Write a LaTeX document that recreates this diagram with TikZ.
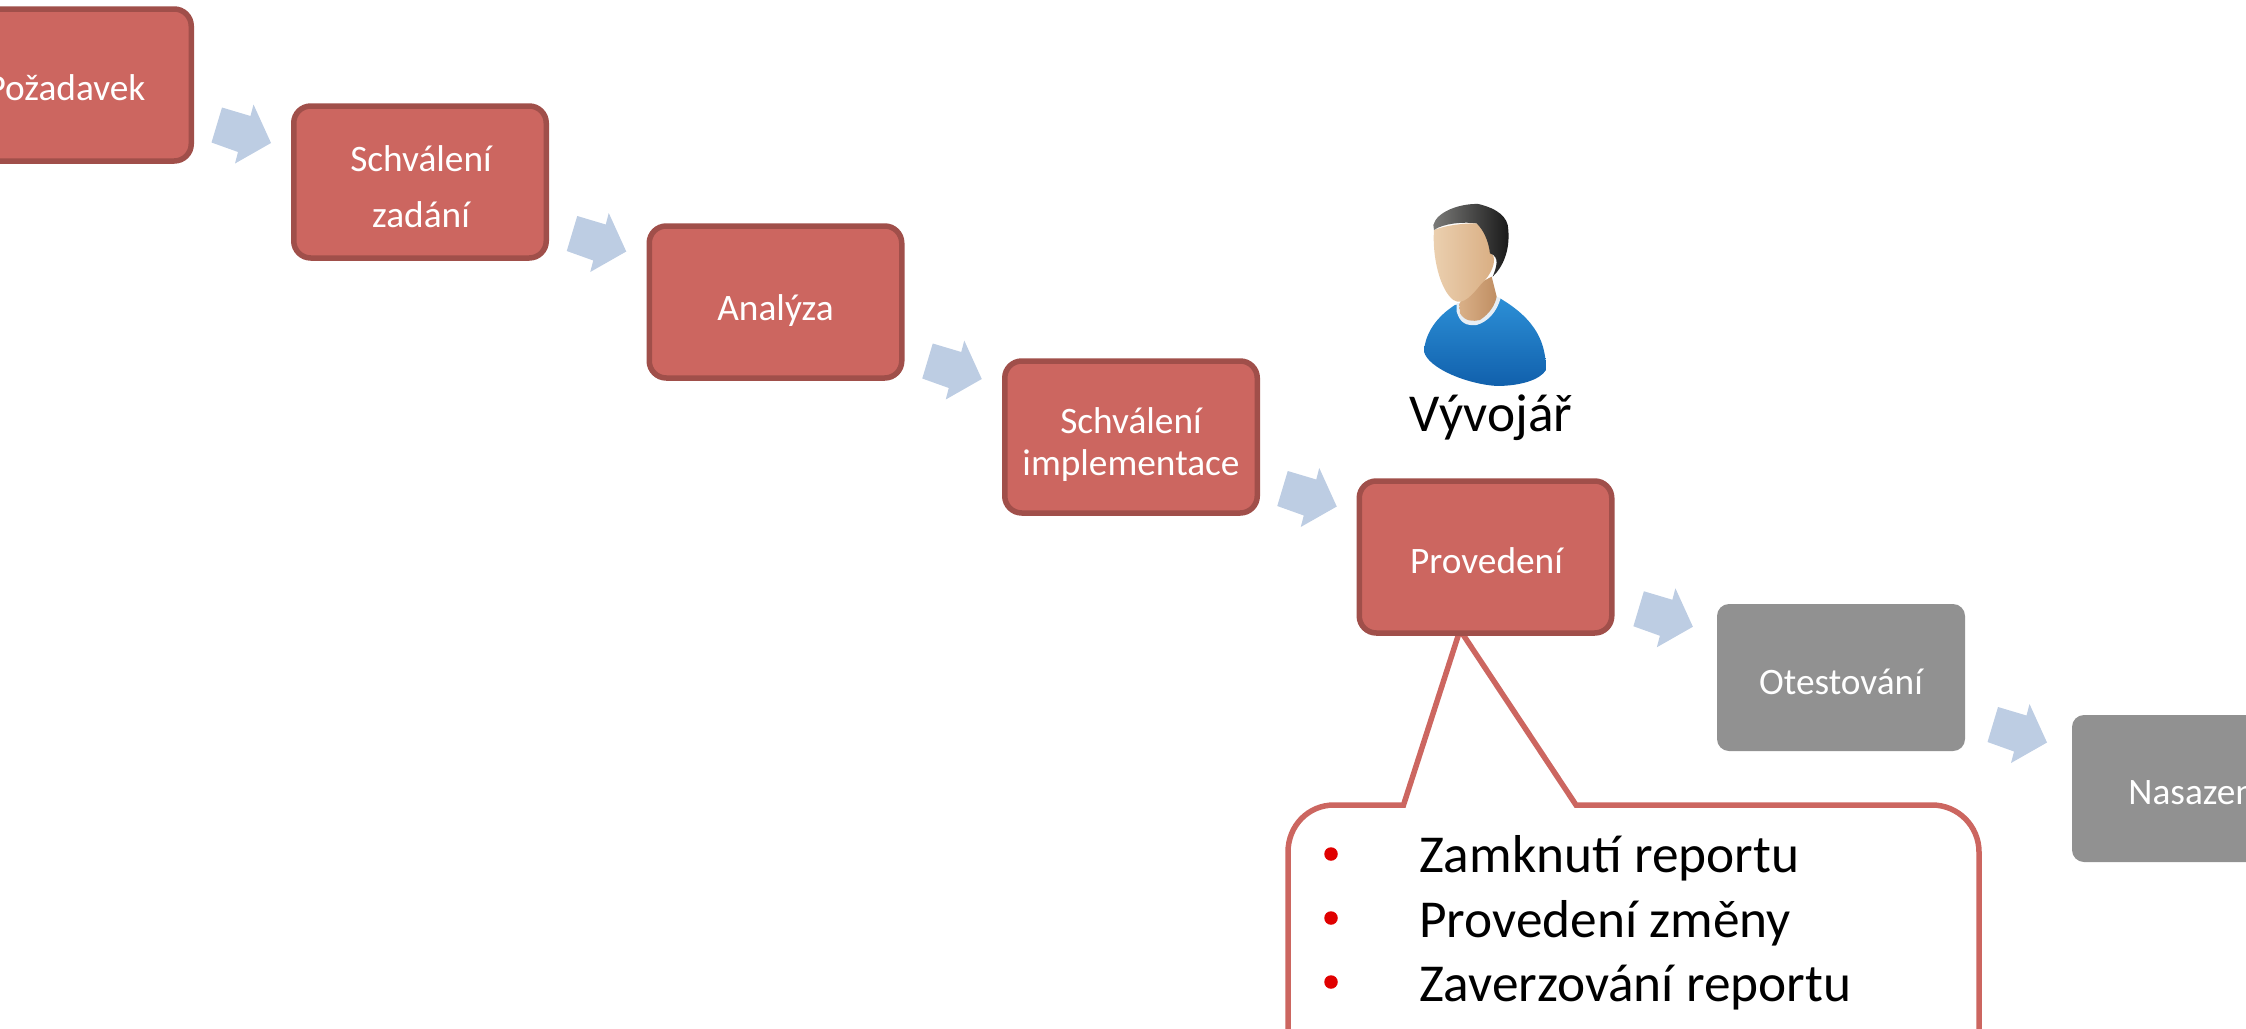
\documentclass[tikz,border=0pt]{standalone}
\usepackage{fontspec}
\setmainfont{Carlito}
\usetikzlibrary{calc}
\definecolor{boxfill}{HTML}{CC6660}
\definecolor{boxline}{HTML}{A04F4A}
\definecolor{doneg}{HTML}{919191}
\definecolor{flowc}{HTML}{BDCDE3}
\definecolor{bul}{HTML}{E00000}
\definecolor{shirtA}{HTML}{2C8FD6}
\definecolor{shirtB}{HTML}{1672BE}
\definecolor{shirtC}{HTML}{1160AC}
\definecolor{skinA}{HTML}{EBD0B0}
\definecolor{skinB}{HTML}{D8AC80}
\definecolor{neckA}{HTML}{D9B088}
\definecolor{neckB}{HTML}{C08E62}
\definecolor{hairA}{HTML}{7A7A78}
\definecolor{hairB}{HTML}{181818}
\definecolor{collar}{HTML}{E6EEF5}
\tikzset{
  redbox/.style={rounded corners=17pt,inner sep=0pt,outer sep=0pt,draw=boxline,fill=boxfill,line width=5.5pt,minimum width=252.5pt,minimum height=152pt},
  greybox/.style={rounded corners=12pt,inner sep=0pt,outer sep=0pt,fill=doneg,minimum width=248pt,minimum height=147pt},
  boxtext/.style={text=white,font=\fontsize{37.33}{45}\selectfont,anchor=base,inner sep=0pt},
  flow/.style={fill=flowc},
  listtext/.style={anchor=base west,font=\fontsize{53.33}{64}\selectfont,inner sep=0pt},
  bullet/.style={circle,fill=bul,minimum size=13.5pt,inner sep=0pt,draw=none}
}
\newcommand{\flowarrow}[2]{%
  \fill[flow,shift={($(#1.east)!0.5!(#2.west)$)}]
    (-20.5,-26)--(8,-17.5)--(11,-29)--(28.5,9.5)--(-7.5,30)--(-4.5,18.5)--(-31,9)--cycle;}
\begin{document}
\begin{tikzpicture}[x=1pt,y=-1pt]
\useasboundingbox (0,0) rectangle (2246,1028);
\clip (0,0) rectangle (2246,1028);
% callout, behind the boxes
\coordinate (apex) at (1460,630);
\draw[boxfill,line width=5.5pt,line join=miter,fill=white]
  (apex) -- (1576,805) -- (1932,805)
  .. controls (1958,805) and (1979,826) .. (1979,852)
  -- (1979,1100) -- (1288,1100) -- (1288,852)
  .. controls (1288,826) and (1308,805) .. (1334,805)
  -- (1403.5,805) -- cycle;
\node[redbox] (poz) at (65,85) {};
\node[redbox] (sch) at (420,182) {};
\node[redbox] (ana) at (775.5,302) {};
\node[redbox] (imp) at (1131,437) {};
\node[redbox] (pro) at (1485.5,557) {};
\node[greybox] (ote) at (1841,677.5) {};
\node[greybox] (nas) at (2196,788.5) {};
\node[boxtext] (tpoz) at (66,100) {Požadavek};
\node[boxtext] (tsch1) at (421,171) {Schválení};
\node[boxtext] (tsch2) at (421,227) {zadání};
\node[boxtext] (tana) at (775.5,320) {Analýza};
\node[boxtext] (timp1) at (1131,433) {Schválení};
\node[boxtext] (timp2) at (1131,475) {implementace};
\node[boxtext] (tpro) at (1486.5,573) {Provedení};
\node[boxtext] (tote) at (1841,694) {Otestování};
\node[boxtext] (tnas) at (2196,804) {Nasazení};
\flowarrow{poz}{sch}
\flowarrow{sch}{ana}
\flowarrow{ana}{imp}
\flowarrow{imp}{pro}
\flowarrow{pro}{ote}
\flowarrow{ote}{nas}
\node[bullet] (b1) at (1331,854) {};
\node[bullet] (b2) at (1331,918) {};
\node[bullet] (b3) at (1331,982) {};
\node[listtext] (l1) at (1419,872) {Zamknutí reportu};
\node[listtext] (l2) at (1419,937) {Provedení změny};
\node[listtext] (l3) at (1419,1001) {Zaverzování reportu};
% person
\begin{scope}[shift={(1340,180)},x=0.3333pt,y=-0.3333pt]
\shade[top color=shirtA,middle color=shirtB,bottom color=shirtC]
  (345,375) .. controls (290,410) and (255,460) .. (252,515)
  .. controls (265,565) and (380,612) .. (470,618)
  .. controls (540,618) and (600,600) .. (618,570)
  .. controls (618,490) and (590,420) .. (480,355) -- cycle;
\fill[collar] (350,395) .. controls (360,430) and (380,438) .. (410,435)
  .. controls (445,425) and (470,395) .. (482,355) -- (470,350) -- (350,370) -- cycle;
\shade[left color=neckA,right color=neckB]
  (358,372) -- (360,400) .. controls (375,425) and (400,425) .. (420,420)
  .. controls (450,400) and (465,375) .. (470,350) -- (455,290) -- (380,330) -- cycle;
\shade[left color=skinA,right color=skinB]
  (282,150) .. controls (276,230) and (300,330) .. (340,360)
  .. controls (370,380) and (400,340) .. (425,310)
  .. controls (450,290) and (475,240) .. (455,220)
  .. controls (450,180) and (430,140) .. (410,130)
  .. controls (370,130) and (320,135) .. (282,150) -- cycle;
\shade[left color=hairA,right color=hairB]
  (280,135) .. controls (290,95) and (360,70) .. (415,72)
  .. controls (470,85) and (505,110) .. (505,150)
  .. controls (510,210) and (490,260) .. (458,290)
  .. controls (470,260) and (480,230) .. (450,220)
  .. controls (445,180) and (430,150) .. (410,130)
  .. controls (370,125) and (310,130) .. (282,150) -- cycle;
\end{scope}
\node[listtext,anchor=base] (dev) at (1491,431) {Vývojář};
\end{tikzpicture}
\end{document}
